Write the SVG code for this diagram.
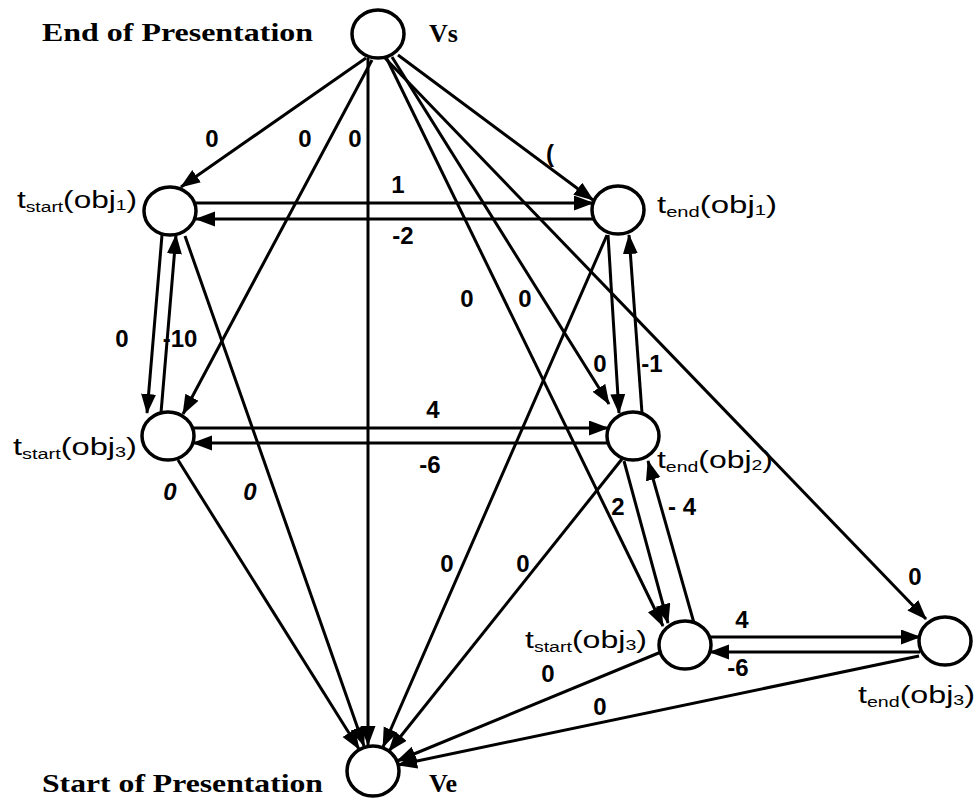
<svg xmlns="http://www.w3.org/2000/svg" width="978" height="800" viewBox="0 0 978 800">
<defs>
<marker id="ah" markerUnits="userSpaceOnUse" markerWidth="22" markerHeight="16" refX="19" refY="7.5" orient="auto">
<path d="M0,0 L20,7.5 L0,15 z" fill="#000"/>
</marker>
<style>
.node ellipse{fill:#fff;stroke:#000;stroke-width:3.5}
.edges line{stroke:#000;stroke-width:3;marker-end:url(#ah)}
.lbl{font-family:"Liberation Sans",Arial,sans-serif;font-weight:bold;font-size:24px;text-anchor:middle;fill:#000}
.it{font-style:italic}
.big{font-family:"Liberation Serif","Times New Roman",serif;font-weight:bold;font-size:26px;fill:#000}
.tl{font-family:"Liberation Sans",Arial,sans-serif;font-size:23px;fill:#000}
.sub{font-size:14px}
</style>
</defs>
<rect width="978" height="800" fill="#fff"/>

<g class="edges">
<line x1="366" y1="58" x2="181" y2="187"/>
<line x1="372" y1="60" x2="183" y2="414"/>
<line x1="368" y1="58" x2="368" y2="745"/>
<line x1="398" y1="55" x2="593" y2="200"/>
<line x1="392" y1="57" x2="609" y2="404"/>
<line x1="386" y1="57" x2="663" y2="626"/>
<line x1="384" y1="57" x2="926" y2="619"/>
<line x1="196" y1="203" x2="593" y2="203"/>
<line x1="593" y1="219" x2="196" y2="219"/>
<line x1="162" y1="235" x2="147" y2="413"/>
<line x1="161" y1="413" x2="176" y2="235"/>
<line x1="193" y1="428" x2="608" y2="428"/>
<line x1="608" y1="443" x2="193" y2="443"/>
<line x1="608" y1="235" x2="619" y2="413"/>
<line x1="642" y1="413" x2="629" y2="235"/>
<line x1="185" y1="236" x2="364" y2="746"/>
<line x1="178" y1="460" x2="359" y2="749"/>
<line x1="607" y1="235" x2="383" y2="747"/>
<line x1="622" y1="459" x2="389" y2="751"/>
<line x1="624" y1="461" x2="668" y2="623"/>
<line x1="710" y1="637" x2="920" y2="637"/>
<line x1="920" y1="652" x2="710" y2="652"/>
<line x1="694" y1="623" x2="648" y2="461"/>
<line x1="661" y1="652" x2="397" y2="761"/>
<line x1="919" y1="656" x2="398" y2="765"/>
</g>

<g id="edge-labels">
<text class="lbl" x="212" y="147">0</text>
<text class="lbl" x="305" y="147">0</text>
<text class="lbl" x="355" y="147">0</text>
<text class="lbl" x="550" y="162">(</text>
<text class="lbl" x="398" y="193">1</text>
<text class="lbl" x="403" y="244">-2</text>
<text class="lbl" x="122" y="347">0</text>
<text class="lbl" x="180" y="347">-10</text>
<text class="lbl" x="467" y="307">0</text>
<text class="lbl" x="525" y="307">0</text>
<text class="lbl" x="600" y="372">0</text>
<text class="lbl" x="652" y="372">-1</text>
<text class="lbl" x="433" y="418">4</text>
<text class="lbl" x="430" y="473">-6</text>
<text class="lbl it" x="170" y="500">0</text>
<text class="lbl it" x="250" y="500">0</text>
<text class="lbl" x="618" y="515">2</text>
<text class="lbl" x="682" y="515">- 4</text>
<text class="lbl" x="447" y="572">0</text>
<text class="lbl" x="523" y="572">0</text>
<text class="lbl" x="548" y="682">0</text>
<text class="lbl" x="600" y="715">0</text>
<text class="lbl" x="742" y="628">4</text>
<text class="lbl" x="738" y="676">-6</text>
<text class="lbl" x="915" y="585">0</text>
</g>

<g id="Vs" class="node">
<ellipse cx="378" cy="34" rx="26" ry="24"/>
<text class="big" x="42" y="41" textLength="271" lengthAdjust="spacingAndGlyphs">End of Presentation</text>
<text class="big" x="429" y="42">Vs</text>
</g>
<g id="tstart_obj1" class="node">
<ellipse cx="170" cy="211" rx="26" ry="24"/>
<text class="tl" x="17" y="208" textLength="120" lengthAdjust="spacingAndGlyphs">t<tspan class="sub" dy="4">start</tspan><tspan dy="-4">(obj</tspan><tspan class="sub" dy="2">1</tspan><tspan dy="-2">)</tspan></text>
</g>
<g id="tend_obj1" class="node">
<ellipse cx="618" cy="210" rx="26" ry="24"/>
<text class="tl" x="657" y="213" textLength="120" lengthAdjust="spacingAndGlyphs">t<tspan class="sub" dy="4">end</tspan><tspan dy="-4">(obj</tspan><tspan class="sub" dy="2">1</tspan><tspan dy="-2">)</tspan></text>
</g>
<g id="tstart_obj3_left" class="node">
<ellipse cx="168" cy="436" rx="26" ry="24"/>
<text class="tl" x="13" y="455" textLength="124" lengthAdjust="spacingAndGlyphs">t<tspan class="sub" dy="4">start</tspan><tspan dy="-4">(obj</tspan><tspan class="sub" dy="2">3</tspan><tspan dy="-2">)</tspan></text>
</g>
<g id="tend_obj2" class="node">
<ellipse cx="633" cy="436" rx="26" ry="24"/>
<text class="tl" x="657" y="468" textLength="116" lengthAdjust="spacingAndGlyphs">t<tspan class="sub" dy="4">end</tspan><tspan dy="-4">(obj</tspan><tspan class="sub" dy="2">2</tspan><tspan dy="-2">)</tspan></text>
</g>
<g id="tstart_obj3_right" class="node">
<ellipse cx="685" cy="645" rx="26" ry="24"/>
<text class="tl" x="525" y="648" textLength="122" lengthAdjust="spacingAndGlyphs">t<tspan class="sub" dy="4">start</tspan><tspan dy="-4">(obj</tspan><tspan class="sub" dy="2">3</tspan><tspan dy="-2">)</tspan></text>
</g>
<g id="tend_obj3" class="node">
<ellipse cx="945" cy="641" rx="26" ry="24"/>
<text class="tl" x="858" y="703" textLength="117" lengthAdjust="spacingAndGlyphs">t<tspan class="sub" dy="4">end</tspan><tspan dy="-4">(obj</tspan><tspan class="sub" dy="2">3</tspan><tspan dy="-2">)</tspan></text>
</g>
<g id="Ve" class="node">
<ellipse cx="373" cy="771" rx="26" ry="25"/>
<text class="big" x="42" y="792" textLength="281" lengthAdjust="spacingAndGlyphs">Start of Presentation</text>
<text class="big" x="429" y="792">Ve</text>
</g>
</svg>
